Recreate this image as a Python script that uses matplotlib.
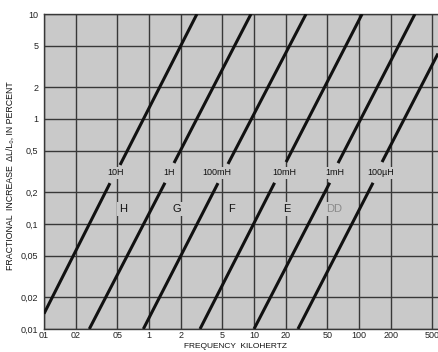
import matplotlib
matplotlib.use("Agg")
import matplotlib.pyplot as plt

plt.rcParams['font.family'] = ['Liberation Sans', 'DejaVu Sans']

# ---- data ----
inductances = ["10H", "1H", "100mH", "10mH", "1mH", "100µH"]
lower_f_start = [0.1, 0.27, 0.883, 3.06, 10.0, 26.2]
lower_y_start = [0.014, 0.01, 0.01, 0.01, 0.01, 0.01]
lower_f_end = [0.425, 1.42, 4.54, 15.7, 52.6, 136.0]
lower_y_end = [0.245, 0.247, 0.245, 0.247, 0.247, 0.247]
upper_f_start = [0.53, 1.73, 5.65, 20.2, 63.1, 165.6]
upper_y_start = [0.365, 0.381, 0.373, 0.389, 0.38, 0.389]
upper_f_end = [2.86, 9.36, 31.3, 107.0, 341.0, 565.0]
upper_y_end = [10.0, 10.0, 10.0, 10.0, 10.0, 4.2]

label_f = [0.485, 1.55, 4.45, 19.3, 59.0, 162.0]
label_y = 0.306

letters = ["H", "G", "F", "E", "DD"]
letter_f = [0.565, 1.85, 6.04, 20.6, 57.8]
letter_y = 0.139
letter_colors = ["#111111", "#111111", "#111111", "#111111", "#8a8a8a"]

x_ticks = [0.1, 0.2, 0.5, 1, 2, 5, 10, 20, 50, 100, 200, 500]
x_tick_labels = ["01", "02", "05", "1", "2", "5", "10", "20", "50", "100", "200", "500"]
y_ticks = [0.01, 0.02, 0.05, 0.1, 0.2, 0.5, 1, 2, 5, 10]
y_tick_labels = ["0,01", "0,02", "0,05", "0,1", "0,2", "0,5", "1", "2", "5", "10"]

# ---- figure ----
W, H = 438, 352
fig = plt.figure(figsize=(W / 100, H / 100), dpi=100)
fig.patch.set_facecolor("white")
ax = fig.add_axes([44 / W, 1 - 329 / H, (438 - 44) / W, (329 - 14) / H])
bg = "#c9c9c9"
ax.set_facecolor(bg)
ax.set_xscale("log")
ax.set_yscale("log")
ax.set_xlim(0.1, 565)
ax.set_ylim(0.01, 10)

ax.set_xticks(x_ticks)
ax.set_xticklabels(x_tick_labels)
ax.set_yticks(y_ticks)
ax.set_yticklabels(y_tick_labels)
ax.minorticks_off()
ax.tick_params(axis="both", length=0, labelsize=6.5, colors="#222222")
ax.tick_params(axis="x", pad=1.5)
ax.tick_params(axis="y", pad=4)
ax.grid(True, which="major", color="#383838", linewidth=1.0)
ax.set_axisbelow(True)

for side in ["left", "top", "bottom"]:
    ax.spines[side].set_color("#383838")
    ax.spines[side].set_linewidth(1.0)
ax.spines["right"].set_visible(False)

for i in range(len(inductances)):
    ax.plot([lower_f_start[i], lower_f_end[i]], [lower_y_start[i], lower_y_end[i]],
            color="#111111", linewidth=2.2, solid_capstyle="butt", zorder=3)
    ax.plot([upper_f_start[i], upper_f_end[i]], [upper_y_start[i], upper_y_end[i]],
            color="#111111", linewidth=2.2, solid_capstyle="butt", zorder=3)
    ax.text(label_f[i], label_y, inductances[i], fontsize=6.5, ha="center", va="center",
            color="#111111", zorder=4,
            bbox=dict(boxstyle="square,pad=0.2", facecolor=bg, edgecolor="none"))

for i in range(len(letters)):
    ax.text(letter_f[i], letter_y, letters[i], fontsize=8, ha="center", va="center",
            color=letter_colors[i], zorder=4,
            bbox=dict(boxstyle="square,pad=0.2", facecolor=bg, edgecolor="none"))

fig.text(10 / W, 1 - 176 / H, "FRACTIONAL  INCREASE  ΔL/L₀, IN PERCENT", rotation=90,
         ha="center", va="center", fontsize=6.3, color="#111111")
fig.text(236 / W, 1 - 346.5 / H, "FREQUENCY  KILOHERTZ", ha="center", va="center",
         fontsize=6, color="#111111")

fig.savefig("out.png", dpi=100, facecolor="white")
